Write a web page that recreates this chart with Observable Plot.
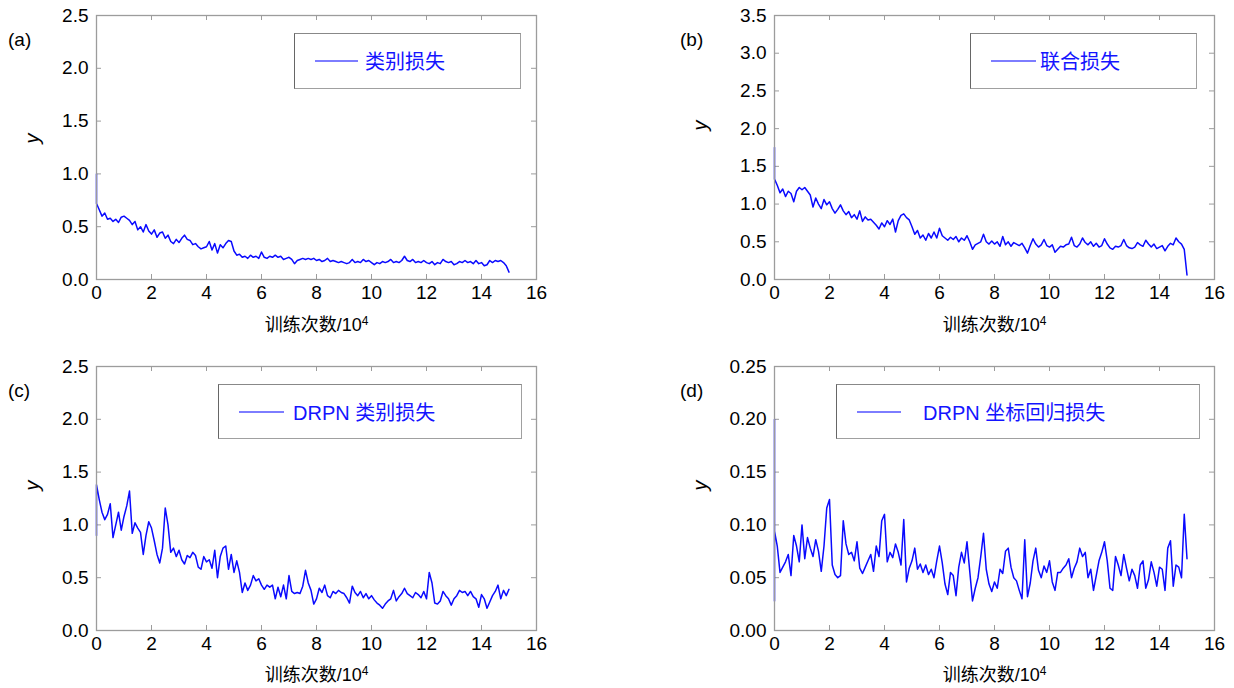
<!DOCTYPE html>
<html><head><meta charset="utf-8">
<script src="https://cdn.jsdelivr.net/npm/d3@7"></script>
<script src="https://cdn.jsdelivr.net/npm/@observablehq/plot@0.6"></script>
<style>
body{margin:0;background:#fff;width:1234px;height:688px;position:relative;overflow:hidden;font-family:"Liberation Sans",Arial,"Noto Sans CJK SC",sans-serif;}
.panel{position:absolute;}
.tag{position:absolute;font-size:19px;color:#000;line-height:20px;}
.legend{position:absolute;box-sizing:border-box;border:1.5px solid #a0a0a0;border-left-color:#666;border-top-color:#888;background:#fff;}
.lline{position:absolute;top:50%;height:0;border-top:2px solid #7d7dff;transform:translateY(-1px);}
.ltext{position:absolute;top:50%;transform:translateY(-52%);font-size:20px;color:#1414ff;white-space:nowrap;font-family:"Liberation Sans","Noto Sans CJK SC",sans-serif;}
</style></head>
<body>
<script>
// ---- data ----
const xTicks = [0, 2, 4, 6, 8, 10, 12, 14, 16];
const yTicksABC = [0, 0.5, 1.0, 1.5, 2.0, 2.5];
const yTicksB = [0, 0.5, 1.0, 1.5, 2.0, 2.5, 3.0, 3.5];
const yTicksD = [0, 0.05, 0.10, 0.15, 0.20, 0.25];
const panelTags = ["(a)", "(b)", "(c)", "(d)"];
const legendLabels = ["类别损失", "联合损失", "DRPN 类别损失", "DRPN 坐标回归损失"];
const xLabelMain = "训练次数/10";
const xLabelSup = "4";
const yLabel = "y";
// iteration grid (×10^4), one sample every 0.1
const steps = d3.range(151).map(i => i / 10);

// initial values drawn at iteration 0 before the sampled series
const headA = [1.0];
const headB = [1.75];
const headC = [0.9];
const headD = [0.2, 0.028];

const lossA = [0.72,0.66,0.60,0.63,0.57,0.58,0.55,0.57,0.54,0.59,
0.60,0.58,0.56,0.52,0.55,0.47,0.50,0.45,0.52,0.46,
0.43,0.47,0.40,0.44,0.45,0.39,0.42,0.36,0.34,0.38,
0.35,0.39,0.42,0.38,0.37,0.33,0.34,0.31,0.29,0.30,
0.31,0.36,0.28,0.34,0.25,0.33,0.30,0.34,0.37,0.36,
0.27,0.23,0.24,0.21,0.22,0.20,0.23,0.21,0.22,0.20,
0.26,0.21,0.20,0.22,0.21,0.23,0.21,0.22,0.19,0.20,
0.21,0.19,0.15,0.18,0.19,0.20,0.19,0.20,0.19,0.20,
0.18,0.19,0.17,0.18,0.20,0.17,0.18,0.17,0.16,0.17,
0.16,0.15,0.16,0.19,0.16,0.17,0.16,0.19,0.17,0.18,
0.16,0.14,0.16,0.15,0.17,0.16,0.17,0.19,0.16,0.17,
0.16,0.18,0.22,0.18,0.17,0.19,0.16,0.17,0.16,0.18,
0.16,0.15,0.17,0.14,0.16,0.15,0.19,0.17,0.16,0.17,
0.14,0.15,0.17,0.16,0.18,0.16,0.17,0.15,0.18,0.15,
0.16,0.13,0.14,0.18,0.16,0.18,0.17,0.18,0.16,0.13,
0.07];

const lossB = [1.33,1.25,1.15,1.20,1.10,1.17,1.14,1.03,1.17,1.22,
1.19,1.22,1.17,1.12,0.96,1.08,1.00,0.94,1.06,0.99,
1.03,0.94,0.88,0.93,0.99,0.91,0.86,0.90,0.82,0.86,
0.80,0.91,0.77,0.83,0.79,0.80,0.76,0.72,0.67,0.75,
0.70,0.78,0.73,0.80,0.63,0.78,0.85,0.87,0.82,0.79,
0.70,0.60,0.65,0.55,0.59,0.52,0.61,0.55,0.63,0.55,
0.68,0.58,0.55,0.52,0.56,0.53,0.57,0.50,0.55,0.52,
0.58,0.50,0.40,0.46,0.48,0.50,0.60,0.50,0.47,0.51,
0.47,0.50,0.44,0.57,0.46,0.50,0.44,0.49,0.47,0.45,
0.48,0.42,0.35,0.45,0.54,0.47,0.43,0.46,0.53,0.45,
0.43,0.46,0.36,0.40,0.44,0.43,0.46,0.47,0.56,0.45,
0.43,0.47,0.55,0.49,0.46,0.50,0.44,0.48,0.43,0.45,
0.54,0.47,0.42,0.40,0.44,0.43,0.45,0.53,0.45,0.42,
0.41,0.43,0.49,0.46,0.44,0.52,0.47,0.43,0.47,0.41,
0.43,0.45,0.38,0.44,0.48,0.46,0.55,0.50,0.47,0.40,
0.06];

const lossC = [1.38,1.24,1.12,1.05,1.10,1.20,0.88,1.00,1.12,0.95,
1.08,1.18,1.32,0.92,1.02,0.97,0.93,0.72,0.90,1.03,
0.97,0.85,0.72,0.64,0.78,1.16,1.00,0.74,0.78,0.70,
0.76,0.67,0.63,0.71,0.69,0.74,0.71,0.60,0.58,0.70,
0.65,0.67,0.59,0.76,0.50,0.70,0.78,0.80,0.58,0.72,
0.55,0.66,0.55,0.36,0.45,0.38,0.43,0.52,0.47,0.49,
0.43,0.39,0.43,0.41,0.43,0.30,0.41,0.32,0.43,0.30,
0.52,0.37,0.35,0.36,0.35,0.42,0.57,0.45,0.38,0.25,
0.30,0.40,0.36,0.43,0.33,0.31,0.37,0.35,0.38,0.36,
0.35,0.31,0.26,0.42,0.36,0.33,0.37,0.31,0.35,0.30,
0.33,0.29,0.26,0.24,0.21,0.25,0.28,0.30,0.38,0.28,
0.32,0.35,0.40,0.35,0.33,0.31,0.36,0.34,0.31,0.37,
0.30,0.55,0.45,0.26,0.25,0.28,0.37,0.33,0.30,0.24,
0.30,0.33,0.38,0.36,0.37,0.33,0.37,0.32,0.30,0.22,
0.34,0.30,0.21,0.27,0.33,0.37,0.43,0.30,0.38,0.33,
0.39];

const lossD = [0.094,0.080,0.055,0.060,0.065,0.072,0.052,0.090,0.080,0.065,
0.100,0.068,0.088,0.078,0.070,0.086,0.075,0.056,0.080,0.116,
0.124,0.062,0.053,0.050,0.052,0.104,0.082,0.072,0.074,0.066,
0.084,0.059,0.054,0.060,0.066,0.072,0.056,0.080,0.070,0.104,
0.110,0.065,0.074,0.069,0.082,0.074,0.062,0.105,0.046,0.059,
0.066,0.078,0.058,0.063,0.055,0.062,0.053,0.058,0.050,0.066,
0.080,0.064,0.044,0.034,0.055,0.052,0.033,0.060,0.074,0.064,
0.084,0.056,0.028,0.040,0.050,0.070,0.092,0.058,0.044,0.037,
0.046,0.040,0.058,0.054,0.075,0.078,0.060,0.050,0.047,0.038,
0.030,0.086,0.032,0.045,0.066,0.078,0.057,0.050,0.061,0.055,
0.066,0.046,0.038,0.055,0.055,0.059,0.062,0.068,0.050,0.059,
0.065,0.078,0.070,0.074,0.050,0.058,0.038,0.052,0.066,0.074,
0.084,0.066,0.040,0.038,0.070,0.062,0.052,0.072,0.059,0.047,
0.058,0.052,0.040,0.062,0.066,0.040,0.048,0.065,0.055,0.042,
0.060,0.058,0.038,0.078,0.085,0.042,0.062,0.060,0.050,0.110,
0.068];

function series(head, vals) {
  return [...head.map(v => ({x: 0, y: v})), ...vals.map((v, i) => ({x: steps[i], y: v}))];
}

// ---- layout ----
const panels = [
  {tag: 0, data: series(headA, lossA), yMax: 2.5, yTicks: yTicksABC, fmt: d3.format(".1f"),
   left: 0, top: 0, mL: 96, H: 345, yl: {dx: -64, dy: -4}, xlDy: 51,
   legend: {l: 294, t: 33, w: 227, h: 56, lineL: 20, lineW: 43, textL: 70}},
  {tag: 1, data: series(headB, lossB), yMax: 3.5, yTicks: yTicksB, fmt: d3.format(".1f"),
   left: 674, top: 0, mL: 100, H: 345, yl: {dx: -74, dy: -17}, xlDy: 51,
   legend: {l: 970, t: 33, w: 227, h: 56, lineL: 20, lineW: 45, textL: 69}},
  {tag: 2, data: series(headC, lossC), yMax: 2.5, yTicks: yTicksABC, fmt: d3.format(".1f"),
   left: 0, top: 351, mL: 96, H: 345, yl: {dx: -64, dy: -8}, xlDy: 50,
   legend: {l: 218, t: 384, w: 304, h: 55, lineL: 20, lineW: 45, textL: 74}},
  {tag: 3, data: series(headD, lossD), yMax: 0.25, yTicks: yTicksD, fmt: d3.format(".2f"),
   left: 674, top: 351, mL: 100, H: 345, yl: {dx: -74, dy: -8}, xlDy: 50,
   legend: {l: 836, t: 384, w: 364, h: 55, lineL: 20, lineW: 44, textL: 86}}
];

const W = 560, mT = 15, ph = 264, pw = 440;
const grey = "#9c9c9c";

panels.forEach(p => {
  const mR = W - p.mL - pw;
  const mB = p.H - mT - ph;
  const chart = Plot.plot({
    width: W, height: p.H,
    marginLeft: p.mL, marginRight: mR, marginTop: mT, marginBottom: mB,
    style: {fontFamily: "'Liberation Sans', Arial, 'Noto Sans CJK SC', sans-serif", fontSize: "19px", color: "#000", overflow: "visible", background: "transparent"},
    x: {domain: [0, 16]},
    y: {domain: [0, p.yMax]},
    marks: [
      Plot.axisX({ticks: xTicks, tickSize: 0, tickPadding: 6, label: null, tickFormat: d3.format("d")}),
      Plot.axisY({ticks: p.yTicks, tickSize: 0, tickPadding: 8, label: null, tickFormat: p.fmt}),
      Plot.tickX(xTicks, {x: d => d, stroke: grey, strokeWidth: 1, insetTop: ph - 5}),
      Plot.tickX(xTicks, {x: d => d, stroke: grey, strokeWidth: 1, insetBottom: ph - 5}),
      Plot.tickY(p.yTicks, {y: d => d, stroke: grey, strokeWidth: 1, insetRight: pw - 5}),
      Plot.tickY(p.yTicks, {y: d => d, stroke: grey, strokeWidth: 1, insetLeft: pw - 5}),
      Plot.line(p.data, {x: "x", y: "y", stroke: "#0a0aff", strokeWidth: 1.5}),
      Plot.frame({stroke: grey, strokeWidth: 1.3}),
      Plot.text([xLabelMain], {text: d => d, frameAnchor: "bottom", dy: p.xlDy, fontSize: 18, fill: "#000"}),
      Plot.text([yLabel], {text: d => d, frameAnchor: "left", dx: p.yl.dx, dy: p.yl.dy, rotate: -90, fontSize: 20, fontStyle: "italic", fill: "#000"})
    ]
  });
  // superscript exponent on the x label
  chart.querySelectorAll("text").forEach(t => {
    if (t.textContent === xLabelMain) {
      const s = document.createElementNS("http://www.w3.org/2000/svg", "tspan");
      s.setAttribute("dy", "-0.45em");
      s.setAttribute("font-size", "12");
      s.textContent = xLabelSup;
      t.appendChild(s);
    }
  });
  const wrap = document.createElement("div");
  wrap.className = "panel";
  wrap.style.left = p.left + "px";
  wrap.style.top = p.top + "px";
  wrap.appendChild(chart);
  document.body.appendChild(wrap);

  const tag = document.createElement("div");
  tag.className = "tag";
  tag.textContent = panelTags[p.tag];
  tag.style.left = (p.left === 0 ? 8 : 680) + "px";
  tag.style.top = (p.top + 30) + "px";
  document.body.appendChild(tag);

  const L = p.legend;
  const lg = document.createElement("div");
  lg.className = "legend";
  lg.style.left = L.l + "px"; lg.style.top = L.t + "px";
  lg.style.width = L.w + "px"; lg.style.height = L.h + "px";
  const ln = document.createElement("div");
  ln.className = "lline";
  ln.style.left = L.lineL + "px"; ln.style.width = L.lineW + "px";
  const tx = document.createElement("span");
  tx.className = "ltext";
  tx.style.left = L.textL + "px";
  tx.textContent = legendLabels[p.tag];
  lg.appendChild(ln); lg.appendChild(tx);
  document.body.appendChild(lg);
});
</script>
</body></html>
